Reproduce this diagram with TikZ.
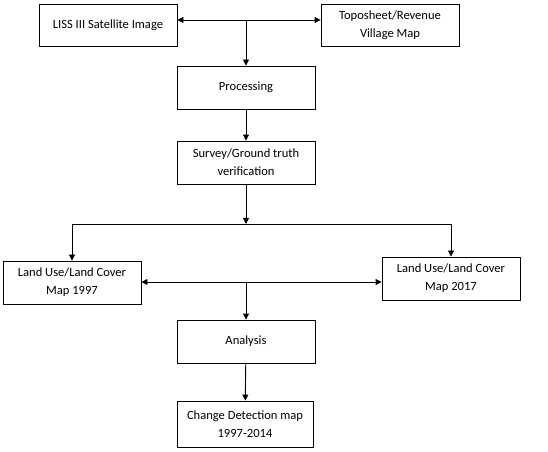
\documentclass[tikz,border=0pt]{standalone}
\usepackage{fontspec}
\setmainfont{Carlito}
\usetikzlibrary{arrows.meta}
\begin{document}
\begin{tikzpicture}[x=1bp,y=-1bp,
  box/.style={draw,line width=0.9bp,minimum width=138bp,minimum height=43bp,inner sep=1bp,align=center,font=\fontsize{12.6}{18.2}\selectfont},
  conn/.style={line width=0.9bp,-{Triangle[length=6bp,width=6bp]}},
  plain/.style={line width=0.9bp}]
\useasboundingbox (0,0) rectangle (548,452);
\node[box,minimum height=42bp] (liss) at (108,25) {LISS III Satellite Image};
\node[box,minimum height=42bp] (topo) at (390,25) {Toposheet/Revenue\\Village Map};
\node[box] (proc) at (246,87.5) {Processing};
\node[box] (surv) at (246,162.5) {Survey/Ground truth\\verification};
\node[box] (lu97) at (72,282.5) {Land Use/Land Cover\\Map 1997};
\node[box] (lu17) at (451,278.5) {Land Use/Land Cover\\Map 2017};
\node[box] (anal) at (246,341.5) {Analysis};
\node[box,minimum width=136bp,minimum height=46bp] (chg) at (245,424) {Change Detection map\\1997-2014};
\coordinate (j1) at (246,20);
\coordinate (j2) at (246,224);
\coordinate (j3) at (246,282);
\draw[conn] (j1) -- (liss.east |- j1);
\draw[conn] (j1) -- (topo.west |- j1);
\draw[conn] (j1) -- (proc.north);
\draw[conn] (proc) -- (surv);
\draw[conn] (surv) -- (j2);
\draw[conn] (j2) -| (lu97.north);
\draw[conn] (j2) -| (lu17.north);
\draw[conn] (j3) -- (lu97.east |- j3);
\draw[conn] (j3) -- (lu17.west |- j3);
\draw[conn] (j3) -- (anal.north);
\draw[conn] (anal) -- (chg);
\end{tikzpicture}
\end{document}
